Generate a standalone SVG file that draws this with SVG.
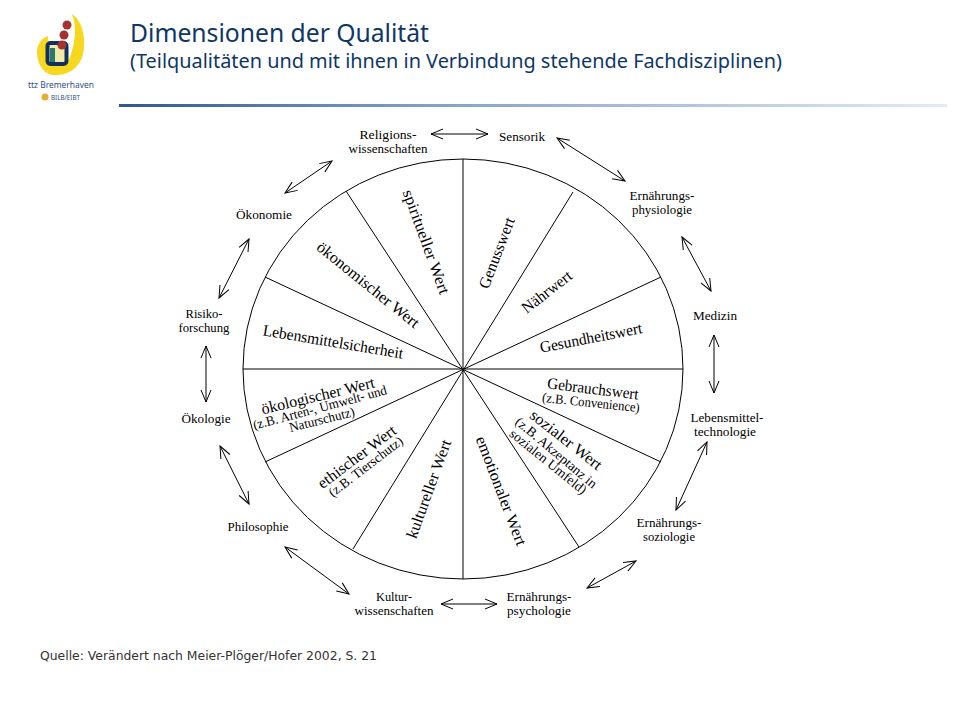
<svg xmlns="http://www.w3.org/2000/svg" width="960" height="720" viewBox="0 0 960 720">
<style>
.w{font-family:"Liberation Serif","Times New Roman",serif;fill:#000;text-anchor:middle}
.o{font-size:12px}
.m{font-size:16px}
.s{font-size:13.5px}
.l{fill:none;stroke:#000;stroke-width:1}
.a{fill:none;stroke:#000;stroke-width:1;marker-start:url(#h);marker-end:url(#h)}
.t{font-family:"Noto Sans","Open Sans",sans-serif;fill:#0f3766}
</style>
<defs>
<marker id="h" viewBox="-13 -6 14 12" refX="0" refY="0" markerWidth="14" markerHeight="12" markerUnits="userSpaceOnUse" orient="auto-start-reverse"><path d="M-12,-5 L0,0 L-12,5" fill="none" stroke="#000" stroke-width="1"/></marker>
<linearGradient id="g" x1="0" x2="1" y1="0" y2="0"><stop offset="0" stop-color="#2f5790"/><stop offset="0.35" stop-color="#7f9cc4"/><stop offset="1" stop-color="#e4ebf5"/></linearGradient>
</defs>
<rect width="960" height="720" fill="#fff"/>
<g id="logo">
<path d="M72,14 C84,22 86,42 83,54 C79,70 66,76 52,75 C42,73 37,62 37,52 C37,44 42,38 48,36 L50,60 L68,62 C74,48 78,30 72,14Z" fill="#f8d81f"/>
<rect x="47.500" y="43" width="19" height="21" rx="3" fill="#f3e9a8" stroke="#12305e" stroke-width="4"/>
<path d="M50,48 L55,48 L55,62 L50,62Z" fill="#2b7a6b"/>
<circle cx="67" cy="25" r="4.500" fill="#a5322e"/><circle cx="64" cy="35" r="4.500" fill="#a5322e"/><circle cx="62" cy="45" r="4.500" fill="#a5322e"/>
<text x="61" y="88" font-family="Noto Sans,sans-serif" font-size="9.500" fill="#2f4f86" text-anchor="middle" textLength="66" lengthAdjust="spacingAndGlyphs">ttz Bremerhaven</text>
<circle cx="45" cy="97" r="3.500" fill="#e0b030"/>
<text x="51" y="100" font-family="Noto Sans,sans-serif" font-size="6.500" fill="#2f4f86" textLength="29" lengthAdjust="spacingAndGlyphs">BILB/EIBT</text>
</g>
<g id="header">
<text class="t" x="130" y="42" font-size="25" textLength="299" lengthAdjust="spacingAndGlyphs">Dimensionen der Qualität</text>
<text class="t" x="130" y="68" font-size="19" textLength="652" lengthAdjust="spacingAndGlyphs">(Teilqualitäten und mit ihnen in Verbindung stehende Fachdisziplinen)</text>
<rect x="119" y="104" width="828" height="3" fill="url(#g)"/>
</g>
<g id="wheel">
<ellipse class="l" cx="463" cy="369" rx="220" ry="210"/>
<path class="l" d="M463,159V579M243,369H683M573,192L353,549M661,277L265,462M661,462L265,277M579,547L346,191"/>
</g>
<g id="segments">
<g id="s1"><text class="w m" transform="translate(497,253) rotate(-69)" y="5" textLength="75" lengthAdjust="spacingAndGlyphs">Genusswert</text></g>
<g id="s2"><text class="w m" transform="translate(547,292) rotate(-38)" y="5" textLength="59" lengthAdjust="spacingAndGlyphs">Nährwert</text></g>
<g id="s3"><text class="w m" transform="translate(591,338) rotate(-11)" y="5" textLength="104" lengthAdjust="spacingAndGlyphs">Gesundheitswert</text></g>
<g id="s4"><text class="w m" transform="translate(593,389) rotate(7)" y="5" textLength="92" lengthAdjust="spacingAndGlyphs">Gebrauchswert</text><text class="w s" transform="translate(591,403) rotate(6)" y="4" textLength="98" lengthAdjust="spacingAndGlyphs">(z.B. Convenience)</text></g>
<g id="s5"><text class="w m" transform="translate(566,440) rotate(38)" y="5" textLength="87" lengthAdjust="spacingAndGlyphs">sozialer Wert</text><text class="w s" transform="translate(556,453) rotate(40)" y="4" textLength="102" lengthAdjust="spacingAndGlyphs">(z.B. Akzeptanz in</text><text class="w s" transform="translate(548,462) rotate(39)" y="4" textLength="95" lengthAdjust="spacingAndGlyphs">sozialen Umfeld)</text></g>
<g id="s6"><text class="w m" transform="translate(501,491) rotate(69)" y="5" textLength="116" lengthAdjust="spacingAndGlyphs">emotionaler Wert</text></g>
<g id="s7"><text class="w m" transform="translate(429,489) rotate(-70)" y="5" textLength="104" lengthAdjust="spacingAndGlyphs">kultureller Wert</text></g>
<g id="s8"><text class="w m" transform="translate(357,457) rotate(-37)" y="5" textLength="94" lengthAdjust="spacingAndGlyphs">ethischer Wert</text><text class="w s" transform="translate(366,467) rotate(-37.500)" y="4" textLength="90" lengthAdjust="spacingAndGlyphs">(z.B. Tierschutz)</text></g>
<g id="s9"><text class="w m" transform="translate(318,396) rotate(-13.500)" y="5" textLength="116" lengthAdjust="spacingAndGlyphs">ökologischer Wert</text><text class="w s" transform="translate(320,408) rotate(-15)" y="4" textLength="138" lengthAdjust="spacingAndGlyphs">(z.B. Arten-, Umwelt- und</text><text class="w s" transform="translate(322,420) rotate(-14)" y="4" textLength="67" lengthAdjust="spacingAndGlyphs">Naturschutz)</text></g>
<g id="s10"><text class="w m" transform="translate(333,342) rotate(9.500)" y="5" textLength="142" lengthAdjust="spacingAndGlyphs">Lebensmittelsicherheit</text></g>
<g id="s11"><text class="w m" transform="translate(368,285) rotate(39)" y="5" textLength="127" lengthAdjust="spacingAndGlyphs">ökonomischer Wert</text></g>
<g id="s12"><text class="w m" transform="translate(426,242) rotate(70)" y="5" textLength="110" lengthAdjust="spacingAndGlyphs">spiritueller Wert</text></g>
</g>
<g id="n1"><text class="w o" x="388" y="139" textLength="57" lengthAdjust="spacingAndGlyphs">Religions-</text><text class="w o" x="388" y="153" textLength="79" lengthAdjust="spacingAndGlyphs">wissenschaften</text></g>
<g id="n2"><text class="w o" x="522" y="141" textLength="46" lengthAdjust="spacingAndGlyphs">Sensorik</text></g>
<g id="n3"><text class="w o" x="662" y="200" textLength="65" lengthAdjust="spacingAndGlyphs">Ernährungs-</text><text class="w o" x="662" y="214" textLength="60" lengthAdjust="spacingAndGlyphs">physiologie</text></g>
<g id="n4"><text class="w o" x="715" y="320" textLength="44" lengthAdjust="spacingAndGlyphs">Medizin</text></g>
<g id="n5"><text class="w o" x="727" y="422" textLength="73" lengthAdjust="spacingAndGlyphs">Lebensmittel-</text><text class="w o" x="725" y="436" textLength="62" lengthAdjust="spacingAndGlyphs">technologie</text></g>
<g id="n6"><text class="w o" x="669" y="527" textLength="65" lengthAdjust="spacingAndGlyphs">Ernährungs-</text><text class="w o" x="669" y="541" textLength="52" lengthAdjust="spacingAndGlyphs">soziologie</text></g>
<g id="n7"><text class="w o" x="539" y="601" textLength="65" lengthAdjust="spacingAndGlyphs">Ernährungs-</text><text class="w o" x="539" y="615" textLength="64" lengthAdjust="spacingAndGlyphs">psychologie</text></g>
<g id="n8"><text class="w o" x="394" y="601" textLength="36" lengthAdjust="spacingAndGlyphs">Kultur-</text><text class="w o" x="394" y="615" textLength="79" lengthAdjust="spacingAndGlyphs">wissenschaften</text></g>
<g id="n9"><text class="w o" x="258" y="531" textLength="61" lengthAdjust="spacingAndGlyphs">Philosophie</text></g>
<g id="n10"><text class="w o" x="206" y="423" textLength="49" lengthAdjust="spacingAndGlyphs">Ökologie</text></g>
<g id="n11"><text class="w o" x="204" y="318" textLength="37" lengthAdjust="spacingAndGlyphs">Risiko-</text><text class="w o" x="204" y="332" textLength="51" lengthAdjust="spacingAndGlyphs">forschung</text></g>
<g id="n12"><text class="w o" x="264" y="219" textLength="56" lengthAdjust="spacingAndGlyphs">Ökonomie</text></g>
<g id="connectors">
<path class="a" d="M431,134L488,134"/>
<path class="a" d="M557,138L625,181"/>
<path class="a" d="M682,237L711,291"/>
<path class="a" d="M714,335L714,393"/>
<path class="a" d="M707,442L676,510"/>
<path class="a" d="M636,561L587,588"/>
<path class="a" d="M497,604L441,604"/>
<path class="a" d="M349,594L285,547"/>
<path class="a" d="M249,504L220,446"/>
<path class="a" d="M206,346L206,402"/>
<path class="a" d="M249,239L219,298"/>
<path class="a" d="M332,161L285,193"/>
</g>
<text id="source" x="40" y="660" font-family="DejaVu Sans,sans-serif" font-size="12" fill="#333" textLength="337" lengthAdjust="spacingAndGlyphs">Quelle: Verändert nach Meier-Plöger/Hofer 2002, S. 21</text>
</svg>
